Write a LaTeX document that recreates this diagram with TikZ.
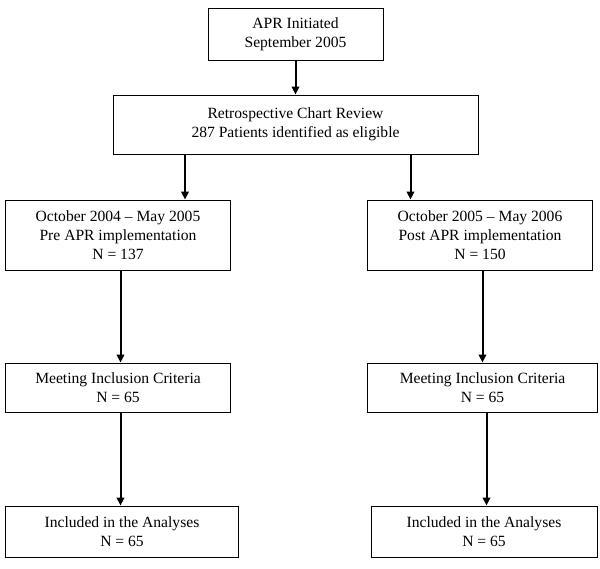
\documentclass[tikz,border=0pt]{standalone}
\usepackage{fontspec}
\setmainfont{Liberation Serif}
\usetikzlibrary{arrows.meta}
\begin{document}
\begin{tikzpicture}[x=1pt,y=-1pt,
  box/.style={draw=black,line width=0.9pt,inner sep=0pt,align=center,
    font=\fontsize{15.6}{19}\selectfont},
  arr/.style={line width=2pt,-{Triangle[length=8pt,width=7.5pt]}}]
\useasboundingbox (0,0) rectangle (600,569);
\node[box,minimum width=175pt,minimum height=52pt] (a) at (295.5,34) {APR Initiated\\September 2005};
\node[box,minimum width=365pt,minimum height=59pt] (b) at (295.5,124.5) {Retrospective Chart Review\\287 Patients identified as eligible};
\node[box,minimum width=225pt,minimum height=70pt] (l1) at (118,235) {October 2004 -- May 2005\\Pre APR implementation\\N = 137};
\node[box,minimum width=225pt,minimum height=70pt] (r1) at (480,235) {October 2005 -- May 2006\\Post APR implementation\\N = 150};
\node[box,minimum width=225pt,minimum height=49pt] (l2) at (118,387.5) {Meeting Inclusion Criteria\\N = 65};
\node[box,minimum width=230pt,minimum height=49pt] (r2) at (482.5,387.5) {Meeting Inclusion Criteria\\N = 65};
\node[box,minimum width=233pt,minimum height=51pt] (l3) at (122,531.5) {Included in the Analyses\\N = 65};
\node[box,minimum width=226pt,minimum height=51pt] (r3) at (484,531.5) {Included in the Analyses\\N = 65};
\draw[arr] (a.south) -- (b.north);
\draw[arr] (b.south -| 185,0) -- (l1.north -| 185,0);
\draw[arr] (b.south -| 410.5,0) -- (r1.north -| 410.5,0);
\draw[arr] (l1.south -| 120.5,0) -- (l2.north -| 120.5,0);
\draw[arr] (r1.south -| 482.5,0) -- (r2.north -| 482.5,0);
\draw[arr] (l2.south -| 120.5,0) -- (l3.north -| 120.5,0);
\draw[arr] (r2.south -| 486.5,0) -- (r3.north -| 486.5,0);
\end{tikzpicture}
\end{document}
